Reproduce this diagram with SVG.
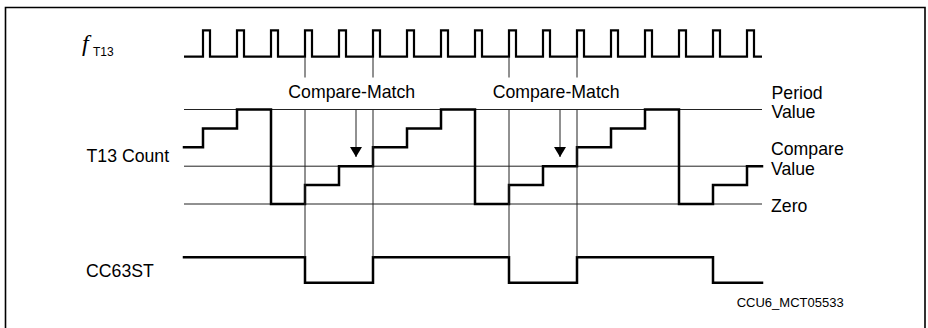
<svg xmlns="http://www.w3.org/2000/svg" width="928" height="328" viewBox="0 0 928 328">
<style>
.frame{fill:none;stroke:#000;stroke-width:1.6}
.wave{fill:none;stroke:#000;stroke-width:2.5;stroke-linejoin:miter;stroke-linecap:square}
.clk{fill:none;stroke:#000;stroke-width:2.2;stroke-linejoin:miter}
.ref{fill:none;stroke:#222;stroke-width:1}
.lbl{font-family:"Liberation Sans",Arial,sans-serif;font-size:17.7px;fill:#000}
.small{font-family:"Liberation Sans",Arial,sans-serif;font-size:13px;fill:#000}
</style>
<defs>
<marker id="ah" markerUnits="userSpaceOnUse" markerWidth="10" markerHeight="12" refX="10" refY="6" orient="auto" viewBox="0 0 10 12">
<path d="M0,0 L10,6 L0,12 Z" fill="#000"/>
</marker>
</defs>
<path class="frame" d="M5.5,330 V7.5 H925 V330"/>

<g id="clock">
<text x="82" y="51" style="font-family:'Liberation Serif','Times New Roman',serif;font-style:italic;font-size:24px">f</text>
<text x="93" y="55.5" style="font-family:'Liberation Sans',Arial,sans-serif;font-size:12px">T13</text>
<path class="clk" d="M184,56.7 H203 V30.3 H210 V56.7 H237 V30.3 H244 V56.7 H271 V30.3 H278 V56.7 H305 V30.3 H312 V56.7 H339 V30.3 H346 V56.7 H373 V30.3 H380 V56.7 H407 V30.3 H414 V56.7 H441 V30.3 H448 V56.7 H475 V30.3 H482 V56.7 H509 V30.3 H516 V56.7 H543 V30.3 H550 V56.7 H577 V30.3 H584 V56.7 H611 V30.3 H618 V56.7 H645 V30.3 H652 V56.7 H679 V30.3 H686 V56.7 H713 V30.3 H720 V56.7 H747 V30.3 H754 V56.7 H762"/>
</g>

<g id="count">
<text class="lbl" x="86.5" y="162.3">T13 Count</text>
<path class="ref" d="M184,109.5 H762 M184,166.2 H762 M184,204 H762"/>
<path class="wave" d="M184,147.3 H203 V128.4 H237 V109.5 H271 V204 H305 V185.1 H339 V166.2 H373 V147.3 H407 V128.4 H441 V109.5 H475 V204 H509 V185.1 H543 V166.2 H577 V147.3 H611 V128.4 H645 V109.5 H679 V204 H713 V185.1 H747 V166.2 H762"/>
<text class="lbl" x="771.5" y="99">Period</text>
<text class="lbl" x="771.5" y="118">Value</text>
<text class="lbl" x="771" y="154.5">Compare</text>
<text class="lbl" x="771" y="174.5">Value</text>
<text class="lbl" x="771" y="212">Zero</text>
</g>

<g id="cc63st">
<text class="lbl" x="86" y="277">CC63ST</text>
<path class="wave" d="M184,257.3 H305 V282.7 H373 V257.3 H509 V282.7 H577 V257.3 H713 V282.7 H762"/>
</g>

<g id="connectors">
<path class="ref" d="M305,57 V77.5 M373,57 V77.5 M509,57 V77.5 M577,57 V77.5 M305,109 V257 M373,109 V257 M509,109 V257 M577,109 V257"/>
<line class="ref" x1="356" y1="109.5" x2="356" y2="157" marker-end="url(#ah)"/>
<line class="ref" x1="560" y1="109.5" x2="560" y2="157" marker-end="url(#ah)"/>
<text class="lbl" x="288.3" y="98.3">Compare-Match</text>
<text class="lbl" x="492.7" y="98.3">Compare-Match</text>
</g>

<text class="small" x="736.7" y="307">CCU6_MCT05533</text>
</svg>
